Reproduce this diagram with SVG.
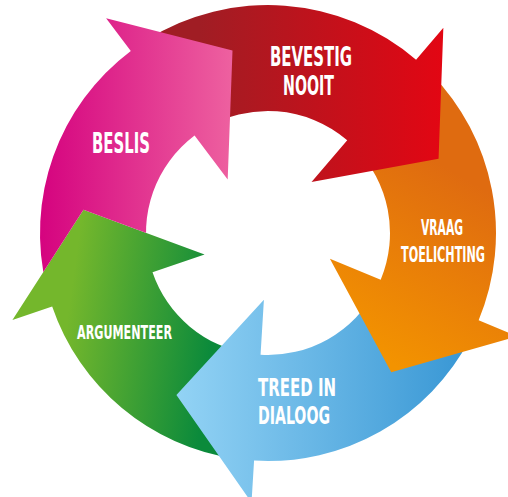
<svg xmlns="http://www.w3.org/2000/svg" width="508" height="497" viewBox="0 0 508 497">
<style>
.lbl{fill:#ffffff;font-family:"Liberation Sans Narrow","DejaVu Sans Condensed","Liberation Sans",sans-serif;font-weight:bold;}
</style>
<defs>
<linearGradient id="gPink" gradientUnits="userSpaceOnUse" x1="40" y1="0" x2="235" y2="0">
<stop offset="0" stop-color="#d5037f"/><stop offset="1" stop-color="#ee62a0"/>
</linearGradient>
<linearGradient id="gRed" gradientUnits="userSpaceOnUse" x1="200" y1="0" x2="445" y2="0">
<stop offset="0" stop-color="#a01d24"/><stop offset="1" stop-color="#e30613"/>
</linearGradient>
<linearGradient id="gOrange" gradientUnits="userSpaceOnUse" x1="485" y1="190" x2="385" y2="360">
<stop offset="0" stop-color="#df6b10"/><stop offset="1" stop-color="#f39300"/>
</linearGradient>
<linearGradient id="gBlue" gradientUnits="userSpaceOnUse" x1="176" y1="0" x2="460" y2="0">
<stop offset="0" stop-color="#93d3f5"/><stop offset="1" stop-color="#3a98d5"/>
</linearGradient>
<linearGradient id="gGreen" gradientUnits="userSpaceOnUse" x1="70" y1="300" x2="215" y2="320">
<stop offset="0" stop-color="#74b72c"/><stop offset="1" stop-color="#0b8a3b"/>
</linearGradient>
<mask id="pinkMask" maskUnits="userSpaceOnUse" x="0" y="0" width="508" height="497">
<rect x="0" y="0" width="508" height="497" fill="#ffffff"/>
<polygon points="12.41,320.01 83.47,209.69 204.58,254.59" fill="#000000"/>
</mask>
</defs>
<g id="connectors"></g>
<g id="node-argumenteer">
<path fill="url(#gGreen)" d="M234.30,458.50 A228,228 0 0 1 52.17,306.48 L12.41,320.01 L83.47,209.69 L204.58,254.59 L152.51,272.32 A122,122 0 0 0 249.97,353.66 Z"/>
<text class="lbl" x="77" y="339" font-size="19.5" textLength="95" lengthAdjust="spacingAndGlyphs">ARGUMENTEER</text>
</g>
<g id="node-treed-in-dialoog">
<path fill="url(#gBlue)" d="M470.24,338.28 A228,228 0 0 1 254.08,460.57 L251.52,502.50 L176.41,394.89 L263.91,299.87 L260.55,354.77 A122,122 0 0 0 376.22,289.33 Z"/>
<text class="lbl" x="258" y="396" font-size="25" textLength="78" lengthAdjust="spacingAndGlyphs">TREED IN</text>
<text class="lbl" x="258" y="424" font-size="25" textLength="72" lengthAdjust="spacingAndGlyphs">DIALOOG</text>
</g>
<g id="node-vraag-toelichting">
<path fill="url(#gOrange)" d="M430.62,73.19 A228,228 0 0 1 478.64,320.25 L517.45,336.32 L391.25,372.31 L329.90,258.64 L380.71,279.69 A122,122 0 0 0 355.02,147.49 Z"/>
<text class="lbl" x="421" y="235" font-size="21" textLength="42" lengthAdjust="spacingAndGlyphs">VRAAG</text>
<text class="lbl" transform="translate(401,262) scale(1,1.39)" x="0" y="0" font-size="15.1" textLength="84" lengthAdjust="spacingAndGlyphs">TOELICHTING</text>
</g>
<g id="node-bevestig-nooit">
<path fill="url(#gRed)" d="M147.18,39.64 A228,228 0 0 1 416.07,59.63 L443.35,27.69 L438.57,158.83 L311.51,182.05 L347.23,140.23 A122,122 0 0 0 203.35,129.54 Z"/>
<text class="lbl" x="270" y="65.5" font-size="26" textLength="82" lengthAdjust="spacingAndGlyphs">BEVESTIG</text>
<text class="lbl" x="283" y="95" font-size="26" textLength="51" lengthAdjust="spacingAndGlyphs">NOOIT</text>
</g>
<g id="node-beslis">
<path fill="url(#gPink)" mask="url(#pinkMask)" d="M46.58,287.38 A228,228 0 0 1 130.79,50.91 L106.11,18.17 L232.51,50.42 L227.68,179.49 L194.58,135.57 A122,122 0 0 0 149.52,262.10 Z"/>
<text class="lbl" x="92" y="153" font-size="28" textLength="58" lengthAdjust="spacingAndGlyphs">BESLIS</text>
</g>
</svg>
